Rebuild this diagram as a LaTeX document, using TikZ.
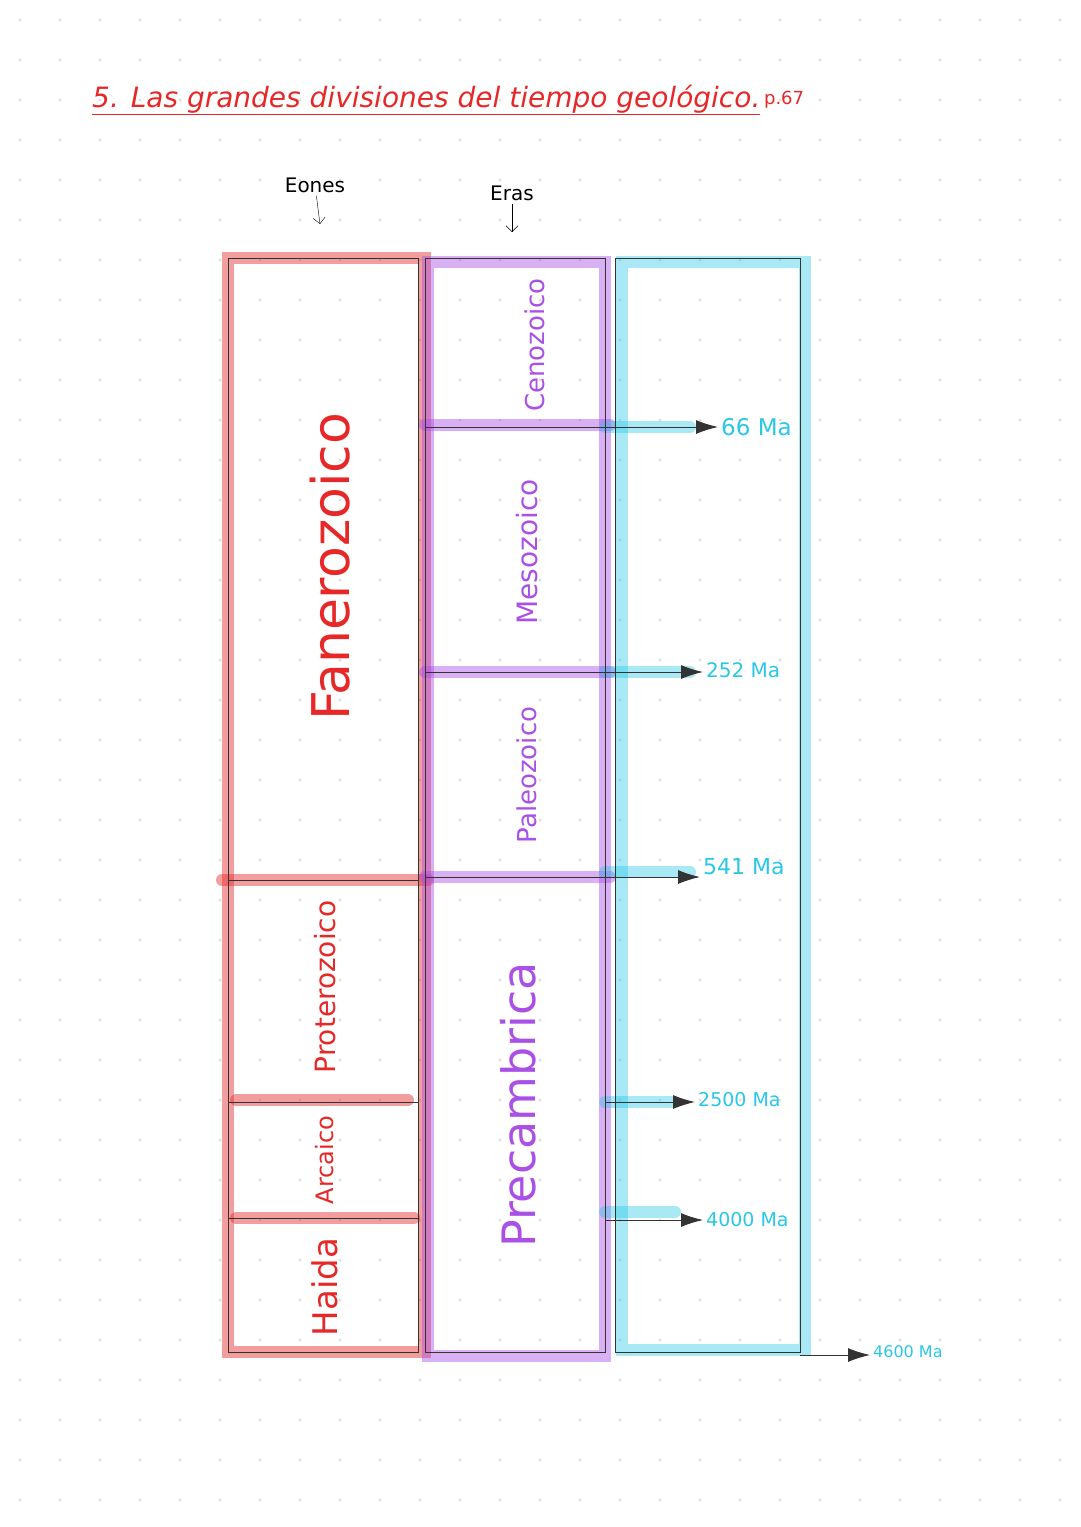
\documentclass[tikz,border=0pt]{standalone}
\usepackage{fontspec}
\setmainfont{DejaVu Sans}
\usetikzlibrary{arrows.meta}
\definecolor{rojo}{RGB}{230,40,40}
\definecolor{morado}{RGB}{170,80,230}
\definecolor{celeste}{RGB}{40,200,230}
\newcommand{\tam}[1]{\fontsize{#1}{#1}\selectfont}
\tikzset{
  hlrojo/.style={line width=12pt,rojo,opacity=0.45,line cap=round},
  hlmorado/.style={line width=12pt,morado,opacity=0.45,line cap=round},
  hlceleste/.style={line width=12pt,celeste,opacity=0.4,line cap=round},
  fina/.style={line width=1pt,black!80},
  flecha/.style={fina,-{Latex[length=22pt,width=14pt]}},
  eon/.style={rojo,rotate=90},
  era/.style={morado,rotate=90},
  edad/.style={celeste,anchor=west,inner sep=3pt},
}
\begin{document}
\begin{tikzpicture}[x=1pt,y=-1pt]
\useasboundingbox (0,0) rectangle (1080,1527);
\fill[white] (0,0) rectangle (1080,1527);
% puntos
\foreach \i in {0,...,26} \foreach \j in {0,...,37}
  \fill[black!14] (20+40*\i,20+40*\j) circle (1.5);
% titulo
\node[rojo,anchor=west,font=\tam{28}\itshape,inner sep=0pt] (titulo) at (92,100) {\underline{5. Las grandes divisiones del tiempo geológico.}};
\node[rojo,anchor=west,font=\tam{18}] (pag) at (titulo.east) {p.67};
% cabeceras
\node[font=\tam{20}] (eones) at (315,185) {Eones};
\node[font=\tam{20}] (eras) at (512,193) {Eras};
\coordinate (eonesb) at (320,224);
\coordinate (erasb) at (512,232);
\draw[-{Straight Barb[length=6pt]}] (eones) -- (eonesb);
\draw[-{Straight Barb[length=6pt]}] (eras) -- (erasb);
% resaltados
\draw[hlrojo] (228,258) rectangle (425,1352);
\draw[hlrojo] (222,880) -- (428,880);
\draw[hlrojo] (236,1100) -- (408,1100);
\draw[hlrojo] (236,1218) -- (414,1218);
\draw[hlmorado] (428,262) rectangle (605,1356);
\draw[hlmorado] (425,425) -- (610,425);
\draw[hlmorado] (425,672) -- (610,672);
\draw[hlmorado] (425,877) -- (610,877);
\draw[hlceleste] (622,262) rectangle (805,1350);
\draw[hlceleste] (605,427) -- (690,427);
\draw[hlceleste] (605,672) -- (690,672);
\draw[hlceleste] (605,872) -- (690,872);
\draw[hlceleste] (605,1102) -- (675,1102);
\draw[hlceleste] (605,1212) -- (675,1212);
% cajas
\draw[fina] (228,258) rectangle (418,1352);
\draw[fina] (425,258) rectangle (605,1352);
\draw[fina] (615,258) rectangle (800,1352);
\draw[fina] (228,880) -- (418,880);
\draw[fina] (228,1102) -- (418,1102);
\draw[fina] (228,1218) -- (418,1218);
\draw[fina] (425,427) -- (605,427);
\draw[fina] (425,672) -- (605,672);
\draw[fina] (425,877) -- (605,877);
% eones
\node[eon,font=\tam{52}] (fan) at (330,567) {Fanerozoico};
\node[eon,font=\tam{28}] (pro) at (325,987) {Proterozoico};
\node[eon,font=\tam{24}] (arc) at (325,1160) {Arcaico};
\node[eon,font=\tam{34}] (hai) at (325,1287) {Haida};
% eras
\node[era,font=\tam{26}] (cen) at (535,345) {Cenozoico};
\node[era,font=\tam{28}] (mes) at (527,552) {Mesozoico};
\node[era,font=\tam{26}] (pal) at (527,775) {Paleozoico};
\node[era,font=\tam{46}] (pre) at (518,1105) {Precambrica};
% edades
\node[edad,font=\tam{23}] (m66) at (718,427) {66 Ma};
\node[edad,font=\tam{20}] (m252) at (703,670) {252 Ma};
\node[edad,font=\tam{22}] (m541) at (700,867) {541 Ma};
\node[edad,font=\tam{19}] (m2500) at (695,1100) {2500 Ma};
\node[edad,font=\tam{19}] (m4000) at (703,1220) {4000 Ma};
\node[edad,font=\tam{16}] (m4600) at (870,1352) {4600 Ma};
\coordinate (s66) at (605,427);
\coordinate (s252) at (605,672);
\coordinate (s541) at (605,877);
\coordinate (s2500) at (605,1102);
\coordinate (s4000) at (605,1220);
\coordinate (s4600) at (800,1355);
\draw[flecha] (s66) -- (m66.west |- s66);
\draw[flecha] (s252) -- (m252.west |- s252);
\draw[flecha] (s541) -- (m541.west |- s541);
\draw[flecha] (s2500) -- (m2500.west |- s2500);
\draw[flecha] (s4000) -- (m4000.west |- s4000);
\draw[flecha] (s4600) -- (m4600.west |- s4600);
\end{tikzpicture}
\end{document}
